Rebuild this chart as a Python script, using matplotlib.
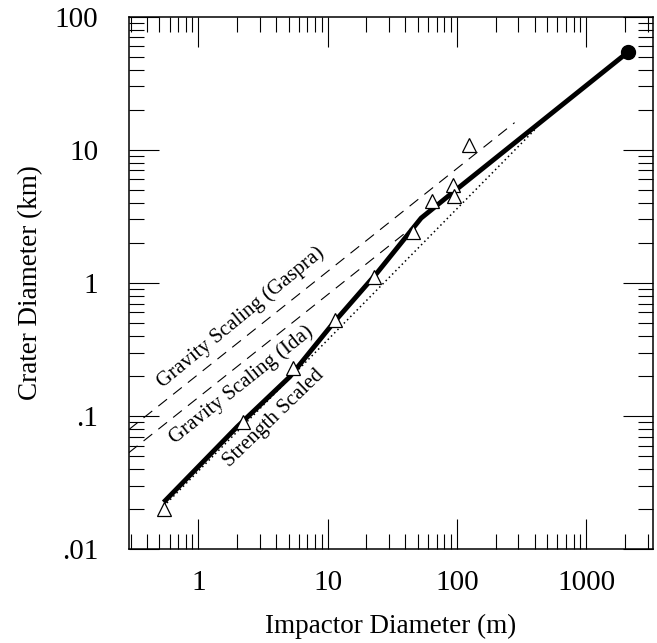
import matplotlib
matplotlib.use("Agg")
import matplotlib.pyplot as plt
from matplotlib.ticker import LogLocator, NullFormatter

plt.rcParams["font.family"] = ["Liberation Serif", "DejaVu Serif"]

# crater observations (impactor diameter in m, crater diameter in km)
obs_impactor = [0.54, 2.2, 5.4, 11.4, 23, 46, 64, 94, 96, 124]
obs_crater = [0.020, 0.090, 0.23, 0.53, 1.1, 2.4, 4.1, 5.4, 4.5, 10.9]

# model curve (thick solid line)
model_impactor = [0.54, 2.0, 5.1, 11.1, 24, 53, 100, 2100]
model_crater = [0.0225, 0.083, 0.197, 0.50, 1.18, 3.07, 5.06, 54]

# scaling laws
strength_impactor = [0.54, 400]
strength_crater = [0.021, 14.1]
gaspra_impactor = [0.29, 280]
gaspra_crater = [0.079, 16.0]
ida_impactor = [0.29, 56]
ida_crater = [0.053, 3.08]

x_ticks = [1, 10, 100, 1000]
x_labels = ["1", "10", "100", "1000"]
y_ticks = [0.01, 0.1, 1, 10, 100]
y_labels = [".01", ".1", "1", "10", "100"]

fig = plt.figure(figsize=(6.57, 6.43), dpi=100)
ax = fig.add_axes([0.196, 0.146, 0.798, 0.828])

ax.plot(gaspra_impactor, gaspra_crater, color="black", lw=0.8, ls=(0, (10, 7)))
ax.plot(ida_impactor, ida_crater, color="black", lw=0.8, ls=(0, (10, 7)))
ax.plot(strength_impactor, strength_crater, color="black", lw=1.1, ls=(0, (1, 2)))
ax.plot(model_impactor, model_crater, color="black", lw=3.5, solid_capstyle="butt")
ax.plot(model_impactor[-1], model_crater[-1], "o", color="black", ms=10)
ax.plot(obs_impactor, obs_crater, "^", mfc="white", mec="black", mew=0.9, ms=10, ls="none")

ax.text(2.15, 0.55, "Gravity Scaling (Gaspra)", rotation=39.5, ha="center", va="center",
        rotation_mode="anchor", fontsize=15)
ax.text(2.15, 0.17, "Gravity Scaling (Ida)", rotation=38.5, ha="center", va="center",
        rotation_mode="anchor", fontsize=15)
ax.text(3.83, 0.0966, "Strength Scaled", rotation=44, ha="center", va="center",
        rotation_mode="anchor", fontsize=15)

ax.set_xscale("log")
ax.set_yscale("log")
ax.set_xlim(0.29, 3300)
ax.set_ylim(0.01, 100)
ax.set_xticks(x_ticks, x_labels)
ax.set_yticks(y_ticks, y_labels)
for axis in (ax.xaxis, ax.yaxis):
    axis.set_minor_locator(LogLocator(base=10, subs=range(2, 10)))
    axis.set_minor_formatter(NullFormatter())

ax.tick_params(which="both", direction="in", top=True, right=True, width=0.8, color="black")
ax.tick_params(which="major", length=21.5, labelsize=21)
ax.tick_params(which="minor", length=11)
ax.tick_params(axis="x", which="major", pad=15)
ax.tick_params(axis="y", which="major", pad=22)
for s in ax.spines.values():
    s.set_linewidth(1.1)

ax.set_xlabel("Impactor Diameter (m)", fontsize=19.5, labelpad=13)
ax.set_ylabel("Crater Diameter (km)", fontsize=19.5, labelpad=8)

fig.savefig("out.png", dpi=100)
